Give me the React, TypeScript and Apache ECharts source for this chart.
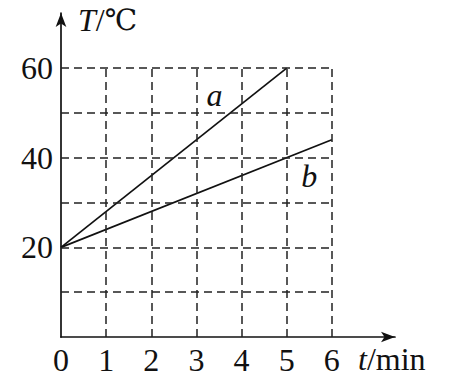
import React, { useEffect, useRef } from "react";
import * as echarts from "echarts";

const xTicks = [0, 1, 2, 3, 4, 5, 6];
const yTickLabels = [20, 40, 60];
const gridXs = [1, 2, 3, 4, 5, 6];
const gridYs = [10, 20, 30, 40, 50, 60];
const seriesA = [[0, 20], [5, 60]];
const seriesB = [[0, 20], [6, 44]];
const labelA = [3.4, 54];
const labelB = [5.5, 36];

const FONT = "'Liberation Serif', 'Times New Roman', serif";
const FS = 32;

export default function App() {
  const ref = useRef<HTMLDivElement>(null);
  useEffect(() => {
    if (!ref.current) return;
    const chart = echarts.init(ref.current, undefined, { renderer: "svg" });
    const gridLines: any[] = [];
    gridYs.forEach((y) => gridLines.push([{ coord: [0, y] }, { coord: [6, y] }]));
    gridXs.forEach((x) => gridLines.push([{ coord: [x, 0] }, { coord: [x, 60] }]));
    const axisLine = {
      show: true,
      symbol: ["none", "arrow"],
      symbolSize: [8, 14],
      lineStyle: { color: "#111", width: 1.7 },
    };
    const italic = { fontStyle: "italic", fontFamily: FONT, fontSize: FS, color: "#111" };
    chart.setOption({
      animation: false,
      backgroundColor: "#fff",
      grid: { left: 61, right: 55, top: 13, bottom: 41 },
      xAxis: {
        type: "value",
        min: 0,
        max: 7.4,
        interval: 1,
        axisLine,
        axisTick: { show: false },
        splitLine: { show: false },
        axisLabel: {
          margin: 7,
          fontFamily: FONT,
          fontSize: FS,
          color: "#111",
          showMaxLabel: false,
          formatter: (v: number) => (xTicks.includes(v) ? String(v) : ""),
        },
        name: "{i|t}/min",
        nameLocation: "end",
        nameGap: -37,
        nameTextStyle: {
          fontFamily: FONT,
          fontSize: FS,
          color: "#111",
          align: "left",
          verticalAlign: "middle",
          padding: [44, 0, 0, 0],
          rich: { i: italic },
        },
      },
      yAxis: {
        type: "value",
        min: 0,
        max: 72.3,
        interval: 10,
        axisLine,
        axisTick: { show: false },
        splitLine: { show: false },
        axisLabel: {
          margin: 8,
          fontFamily: FONT,
          fontSize: FS,
          color: "#111",
          showMaxLabel: false,
          formatter: (v: number) => (yTickLabels.includes(v) ? String(v) : ""),
        },
        name: "{i|T}/{c|℃}",
        nameLocation: "end",
        nameGap: -7,
        nameTextStyle: {
          fontFamily: FONT,
          fontSize: FS,
          color: "#111",
          align: "left",
          verticalAlign: "middle",
          padding: [0, 0, 0, 17],
          rich: {
            i: italic,
            c: { fontFamily: "'DejaVu Serif', serif", fontSize: 29, color: "#111" },
          },
        },
      },
      series: [
        {
          name: "a",
          type: "line",
          data: seriesA,
          showSymbol: false,
          lineStyle: { color: "#111", width: 1.7 },
          markLine: {
            silent: true,
            symbol: ["none", "none"],
            label: { show: false },
            lineStyle: { color: "#222", width: 1.5, type: [8, 5] },
            data: gridLines,
          },
          markPoint: {
            symbol: "circle",
            symbolSize: 0,
            label: { show: true, formatter: "a", ...italic },
            data: [{ coord: labelA }],
          },
        },
        {
          name: "b",
          type: "line",
          data: seriesB,
          showSymbol: false,
          lineStyle: { color: "#111", width: 1.7 },
          markPoint: {
            symbol: "circle",
            symbolSize: 0,
            label: { show: true, formatter: "b", ...italic },
            data: [{ coord: labelB }],
          },
        },
      ],
    });
    return () => chart.dispose();
  }, []);
  return <div ref={ref} style={{ width: 450, height: 378, position: "absolute", left: 0, top: 0 }} />;
}
